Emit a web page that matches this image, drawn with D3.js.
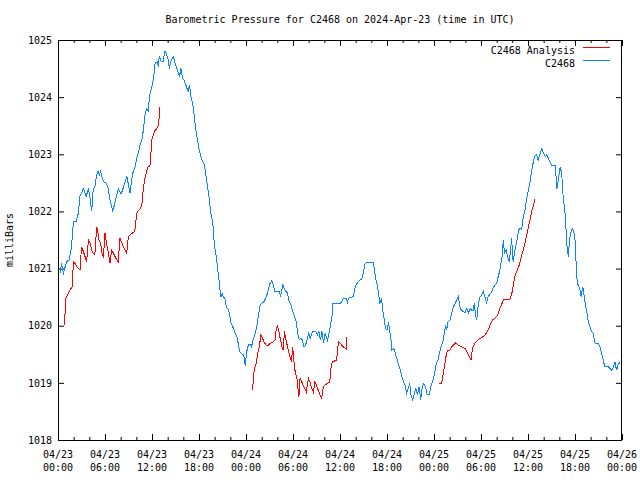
<!DOCTYPE html>
<html>
<head>
<meta charset="utf-8">
<script src="https://cdn.jsdelivr.net/npm/d3@7"></script>
<style>
  html, body { margin: 0; padding: 0; background: #fff; }
  svg { display: block; }
  text { font-family: "DejaVu Sans Mono", monospace; font-size: 10px; fill: #000; }
</style>
</head>
<body>
<svg id="chart" width="640" height="480"></svg>
<script>
// ---------- DATA (hours since 2024-04-23 00:00 UTC, pressure in mb) ----------
const title = "Barometric Pressure for C2468 on 2024-Apr-23 (time in UTC)";
const yLabel = "milliBars";
const seriesNames = ["C2468 Analysis", "C2468"];

const stationHours = [0.26,0.47,0.6,0.7,1.1,1.4,1.66,1.83,1.96,2.3,2.6,2.8,3.0,3.2,3.4,3.6,3.87,4.1,4.3,4.5,4.7,4.94,5.1,5.3,5.45,5.6,5.8,6.2,6.4,6.64,6.85,7.0,7.2,7.5,7.7,7.9,8.05,8.3,8.55,8.8,9.0,9.2,9.4,9.6,9.8,10.05,10.3,10.47,10.7,10.9,11.1,11.3,11.5,11.7,11.9,12.2,12.4,12.7,12.8,12.93,13.1,13.2,13.4,13.66,13.87,14.1,14.2,14.4,14.7,14.9,15.1,15.3,15.5,15.7,15.9,16.1,16.4,16.6,16.8,17.0,17.2,17.4,17.6,17.8,18.0,18.3,18.5,18.7,18.9,19.1,19.3,19.5,19.75,19.96,20.2,20.4,20.55,20.7,20.8,20.96,21.1,21.3,21.5,21.8,22.1,22.4,22.6,22.85,23.0,23.2,23.45,23.7,23.9,24.1,24.3,24.5,24.7,24.9,25.2,25.4,25.6,25.8,26.0,26.3,26.5,26.6,26.85,27.06,27.3,27.5,27.7,28.1,28.3,28.4,28.7,28.9,29.1,29.3,29.5,29.75,29.96,30.2,30.4,30.6,30.8,31.0,31.2,31.4,31.6,31.8,32.0,32.2,32.5,32.9,33.1,33.3,33.5,33.7,33.9,34.1,34.4,34.6,34.8,35.0,35.1,35.6,36.0,36.2,36.43,36.85,36.94,37.06,37.7,37.9,38.1,38.55,38.77,38.98,39.2,39.4,40.26,40.4,40.6,40.8,41.0,41.1,41.3,41.45,41.66,41.8,42.0,42.2,42.3,42.5,42.6,42.85,43.06,43.3,43.5,43.7,43.9,44.1,44.3,44.5,44.7,44.9,45.06,45.3,45.5,45.7,45.9,46.1,46.3,46.5,46.7,46.9,47.15,47.4,47.6,47.8,48.0,48.25,48.5,48.7,48.9,49.2,49.3,49.5,49.6,49.8,50.05,50.26,50.47,50.7,50.9,51.1,51.3,51.5,51.75,51.96,52.17,52.4,52.6,52.8,53.0,53.15,53.3,53.45,53.66,53.9,54.1,54.3,54.5,54.7,54.9,55.1,55.4,55.6,55.8,56.0,56.2,56.4,56.55,56.7,56.85,57.0,57.2,57.4,57.6,57.8,57.9,58.1,58.3,58.6,58.8,59.0,59.2,59.4,59.6,59.8,60.05,60.26,60.5,60.7,60.9,61.1,61.3,61.5,61.75,61.96,62.2,62.4,62.6,62.8,63.0,63.45,63.6,63.7,63.9,64.1,64.3,64.5,64.7,64.86,65.0,65.15,65.3,65.45,65.66,65.9,66.05,66.2,66.4,66.6,66.77,67.0,67.15,67.3,67.5,67.7,67.9,68.1,68.3,68.56,68.98,69.2,69.4,69.6,69.8,70.26,70.5,70.7,70.9,71.1,71.3,71.5,71.75];
const stationValues = [1020.92,1021.09,1020.97,1020.92,1021.12,1021.15,1021.32,1021.56,1021.82,1021.82,1021.97,1022.26,1022.32,1022.40,1022.35,1022.26,1022.40,1022.23,1022.00,1022.40,1022.42,1022.64,1022.70,1022.64,1022.70,1022.61,1022.52,1022.49,1022.40,1022.20,1022.08,1022.01,1022.11,1022.29,1022.40,1022.35,1022.30,1022.40,1022.52,1022.61,1022.46,1022.32,1022.55,1022.70,1022.75,1022.93,1023.04,1023.16,1023.25,1023.42,1023.69,1023.80,1023.75,1024.02,1024.14,1024.32,1024.60,1024.62,1024.53,1024.71,1024.65,1024.62,1024.62,1024.81,1024.74,1024.65,1024.50,1024.62,1024.71,1024.62,1024.53,1024.45,1024.36,1024.50,1024.33,1024.30,1024.18,1024.10,1024.21,1023.98,1023.89,1023.66,1023.42,1023.25,1023.10,1022.93,1022.87,1022.81,1022.61,1022.43,1022.23,1021.97,1021.82,1021.41,1021.21,1020.97,1020.80,1020.60,1020.50,1020.56,1020.50,1020.48,1020.33,1020.27,1020.04,1019.95,1019.87,1019.81,1019.69,1019.54,1019.51,1019.49,1019.30,1019.55,1019.66,1019.68,1019.63,1019.75,1019.87,1020.01,1020.19,1020.36,1020.39,1020.42,1020.48,1020.51,1020.62,1020.74,1020.79,1020.71,1020.60,1020.60,1020.60,1020.51,1020.71,1020.65,1020.60,1020.57,1020.42,1020.36,1020.25,1020.16,1020.07,1019.87,1019.75,1019.78,1019.75,1019.63,1019.66,1019.75,1019.87,1019.78,1019.90,1019.90,1019.84,1019.90,1019.75,1019.90,1019.69,1019.87,1019.75,1019.87,1020.01,1020.19,1020.39,1020.39,1020.39,1020.42,1020.48,1020.48,1020.39,1020.48,1020.51,1020.65,1020.73,1020.80,1020.82,1020.92,1021.09,1021.10,1021.10,1020.97,1020.80,1020.68,1020.48,1020.39,1020.48,1020.27,1020.10,1019.95,1019.92,1020.07,1019.95,1019.78,1019.57,1019.60,1019.52,1019.40,1019.31,1019.22,1019.11,1019.02,1018.96,1018.82,1018.90,1018.99,1018.79,1018.70,1018.82,1018.90,1018.79,1018.93,1018.70,1018.93,1018.99,1018.93,1018.79,1018.79,1018.93,1019.02,1019.11,1019.31,1019.40,1019.52,1019.63,1019.75,1019.87,1020.01,1019.92,1020.07,1020.10,1020.22,1020.33,1020.39,1020.45,1020.51,1020.33,1020.27,1020.25,1020.22,1020.30,1020.22,1020.30,1020.27,1020.27,1020.39,1020.19,1020.10,1020.39,1020.51,1020.54,1020.60,1020.51,1020.39,1020.51,1020.54,1020.60,1020.68,1020.71,1020.74,1020.86,1020.97,1021.09,1021.21,1021.50,1021.27,1021.33,1021.21,1021.12,1021.35,1021.53,1021.12,1021.30,1021.50,1021.68,1021.70,1021.68,1021.91,1022.00,1022.20,1022.37,1022.52,1022.74,1022.88,1022.98,1022.99,1022.90,1022.99,1023.10,1023.02,1022.96,1022.99,1022.93,1022.87,1022.81,1022.81,1022.58,1022.40,1022.58,1022.78,1022.67,1022.23,1022.02,1021.67,1021.35,1021.21,1021.50,1021.62,1021.70,1021.62,1021.44,1020.86,1020.71,1020.65,1020.51,1020.68,1020.54,1020.39,1020.25,1020.07,1019.98,1019.90,1019.87,1019.69,1019.69,1019.63,1019.52,1019.40,1019.28,1019.28,1019.25,1019.22,1019.28,1019.37,1019.22,1019.31,1019.37];

// Analysis: null marks a gap between runs
const analysisHours = [0.81,0.9,1.02,1.24,1.45,1.66,1.83,1.96,2.17,2.4,2.6,2.81,3.0,3.24,3.45,3.66,3.88,4.1,4.3,4.5,4.7,4.94,5.07,5.24,5.45,5.66,5.8,6.0,6.2,6.43,6.64,6.85,7.07,7.28,7.5,7.7,7.9,8.1,8.35,8.55,8.77,8.98,9.2,9.5,9.8,10.05,10.3,10.5,10.7,10.9,11.1,11.3,11.5,11.74,11.87,11.95,12.17,12.4,12.6,12.8,12.93,12.95,
  18,
  24.8,24.93,25.06,25.3,25.5,25.7,25.9,26.1,26.3,26.55,26.85,27.06,27.5,27.7,27.83,28.0,28.2,28.4,28.6,28.76,28.9,29.06,29.3,29.4,29.6,29.8,29.96,30.1,30.25,30.5,30.6,30.76,30.9,31.1,31.3,31.5,31.7,31.96,32.2,32.4,32.6,32.8,33.0,33.2,33.44,33.66,33.87,34.1,34.5,34.7,34.9,35.1,35.57,35.8,36.0,36.2,36.43,36.77,36.85,
  42,
  48.64,48.98,49.2,49.4,49.6,49.8,50.05,50.26,50.47,50.77,51.1,51.5,51.96,52.17,52.4,52.6,52.73,52.9,53.2,53.6,53.9,54.3,54.7,54.9,55.15,55.45,55.7,56.0,56.2,56.4,56.6,56.85,57.06,57.7,57.9,58.1,58.3,58.56,58.8,59.0,59.2,59.4,59.6,59.8,60.05,60.26,60.5,60.7,60.9];
const analysisValues = [1020.01,1020.22,1020.48,1020.55,1020.60,1020.65,1020.68,1021.12,1021.09,1021.03,1021.00,1020.97,1021.38,1021.30,1021.21,1021.12,1021.50,1021.44,1021.32,1021.27,1021.24,1021.73,1021.65,1021.50,1021.44,1021.24,1021.21,1021.62,1021.44,1021.27,1021.09,1021.32,1021.27,1021.21,1021.15,1021.12,1021.53,1021.47,1021.38,1021.32,1021.27,1021.56,1021.59,1021.62,1021.65,1021.97,1022.02,1022.05,1022.11,1022.40,1022.58,1022.70,1022.78,1022.80,1023.02,1023.25,1023.34,1023.42,1023.45,1023.51,1023.66,1023.83,
  null,
  1018.88,1019.02,1019.25,1019.34,1019.52,1019.63,1019.84,1019.78,1019.72,1019.66,1019.66,1019.69,1019.72,1019.75,1019.90,1020.01,1019.90,1019.75,1019.63,1019.57,1019.90,1019.78,1019.63,1019.57,1019.46,1019.37,1019.63,1019.40,1019.22,1019.08,1018.93,1018.76,1019.08,1019.02,1018.96,1018.90,1018.84,1019.08,1019.00,1018.90,1018.84,1019.02,1018.96,1018.88,1018.79,1018.73,1018.93,1018.96,1019.00,1019.02,1019.34,1019.37,1019.40,1019.72,1019.70,1019.66,1019.63,1019.59,1019.81,
  null,
  1018.99,1018.99,1019.17,1019.34,1019.52,1019.57,1019.57,1019.63,1019.66,1019.70,1019.66,1019.63,1019.60,1019.55,1019.49,1019.43,1019.41,1019.60,1019.69,1019.75,1019.78,1019.81,1019.87,1019.92,1020.01,1020.10,1020.12,1020.16,1020.22,1020.30,1020.36,1020.45,1020.46,1020.46,1020.54,1020.68,1020.86,1020.95,1021.03,1021.12,1021.24,1021.32,1021.44,1021.56,1021.73,1021.85,1022.02,1022.11,1022.22];

const yTicks = [1018,1019,1020,1021,1022,1023,1024,1025];
const xTickHours = [0,6,12,18,24,30,36,42,48,54,60,66,72];
const xTickDates = ["04/23","04/23","04/23","04/23","04/24","04/24","04/24","04/24","04/25","04/25","04/25","04/25","04/26"];
const xTickTimes = ["00:00","06:00","12:00","18:00","00:00","06:00","12:00","18:00","00:00","06:00","12:00","18:00","00:00"];
const seriesColors = ["#ff0000", "#0a84ff"];

// ---------- CHART ----------
const W = 640, H = 480;
const m = { left: 58, right: 18, top: 40, bottom: 40 };
const svg = d3.select("#chart");
const base = Date.UTC(2024, 3, 23, 0, 0, 0);
const toDate = h => new Date(base + h * 3600e3);

const x = d3.scaleUtc().domain([toDate(0), toDate(72)]).range([m.left, W - m.right]);
const y = d3.scaleLinear().domain([1018, 1025]).range([H - m.bottom, m.top]);

// title
svg.append("text").attr("x", (m.left + W - m.right) / 2).attr("y", 23)
  .attr("text-anchor", "middle").text(title);

// y label
svg.append("text").attr("transform", `translate(13,${(m.top + H - m.bottom) / 2}) rotate(-90)`)
  .attr("text-anchor", "middle").text(yLabel);

const majorX = xTickHours.map(toDate);
const minorX = d3.range(0, 73, 2).filter(h => h % 6 !== 0).map(toDate);

function noDomain(g) { g.select(".domain").remove(); g.selectAll(".tick line").attr("stroke", "#000"); }

// left axis with labels
svg.append("g").attr("transform", `translate(${m.left},0)`)
  .call(d3.axisLeft(y).tickValues(yTicks).tickFormat(d3.format("d")).tickSize(-6).tickPadding(6))
  .call(noDomain)
  .call(g => g.selectAll("text").style("font-family", "DejaVu Sans Mono").style("font-size", "10px"));
// right axis ticks
svg.append("g").attr("transform", `translate(${W - m.right},0)`)
  .call(d3.axisRight(y).tickValues(yTicks).tickFormat("").tickSize(-6))
  .call(noDomain);
// bottom / top axes, major and minor ticks
svg.append("g").attr("transform", `translate(0,${H - m.bottom})`)
  .call(d3.axisBottom(x).tickValues(majorX).tickFormat("").tickSize(-6))
  .call(noDomain);
svg.append("g").attr("transform", `translate(0,${H - m.bottom})`)
  .call(d3.axisBottom(x).tickValues(minorX).tickFormat("").tickSize(-3))
  .call(noDomain);
svg.append("g").attr("transform", `translate(0,${m.top})`)
  .call(d3.axisTop(x).tickValues(majorX).tickFormat("").tickSize(-6))
  .call(noDomain);
svg.append("g").attr("transform", `translate(0,${m.top})`)
  .call(d3.axisTop(x).tickValues(minorX).tickFormat("").tickSize(-3))
  .call(noDomain);

// two-line x labels
const xl = svg.append("g");
majorX.forEach((d, i) => {
  const t = xl.append("text").attr("x", x(d)).attr("text-anchor", "middle");
  t.append("tspan").attr("x", x(d)).attr("y", H - m.bottom + 18).text(xTickDates[i]);
  t.append("tspan").attr("x", x(d)).attr("y", H - m.bottom + 31).text(xTickTimes[i]);
});

// lines
const line = d3.line()
  .defined(d => d.v !== null)
  .x(d => x(toDate(d.h)))
  .y(d => y(d.v));

const analysis = analysisHours.map((h, i) => ({ h, v: analysisValues[i] }));
const station = stationHours.map((h, i) => ({ h, v: stationValues[i] }));

svg.append("path").datum(analysis).attr("d", line)
  .style("fill", "none").style("stroke", seriesColors[0]).style("stroke-width", 1)
  .style("shape-rendering", "crispEdges");
svg.append("path").datum(station).attr("d", line)
  .style("fill", "none").style("stroke", seriesColors[1]).style("stroke-width", 1)
  .style("shape-rendering", "crispEdges");

// frame
svg.append("rect").attr("x", m.left + 0.5).attr("y", m.top + 0.5)
  .attr("width", W - m.left - m.right - 1).attr("height", H - m.top - m.bottom)
  .attr("fill", "none").attr("stroke", "#000").attr("stroke-width", 1);

// legend
const legend = svg.append("g");
seriesNames.forEach((name, i) => {
  const ly = 50 + i * 13;
  legend.append("text").attr("x", 575).attr("y", ly).attr("dy", "0.35em")
    .attr("text-anchor", "end").text(name);
  legend.append("rect").attr("x", 583).attr("y", ly - 3).attr("width", 27).attr("height", 1)
    .style("fill", seriesColors[i]);
});
</script>
</body>
</html>
